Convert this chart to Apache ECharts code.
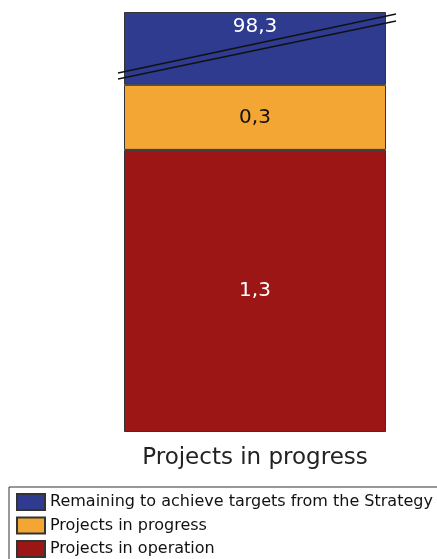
<!DOCTYPE html>
<html><head><meta charset="utf-8">
<script src="https://cdn.jsdelivr.net/npm/echarts@6/dist/echarts.min.js"></script>
<style>html,body{margin:0;padding:0;background:#fff;} #c{width:437px;height:559px;}</style>
</head><body><div id="c"></div>
<script>
// ---- data ----
const categories = ['Projects in progress'];
const seriesNames = ['Projects in operation', 'Projects in progress', 'Remaining to achieve targets from the Strategy'];
const operationValues = [1.3];
const progressValues = [0.3];
const remainingValues = [98.3];
const legendOrder = ['Remaining to achieve targets from the Strategy', 'Projects in progress', 'Projects in operation'];
const axisMin = 0;
const axisMax = 99.9;
const breakStart = 1.8;
const breakEnd = 99.7645;

// ---- style ----
const FONT = 'DejaVu Sans';
const colors = ['#9c1616', '#f3a634', '#2e3b8f'];
const labelColors = ['#ffffff', '#111111', '#ffffff'];
const grid = { left: 124, top: 12, width: 262, height: 420 };

const fmt = p => String(p.value).replace('.', ',');
const valueSets = [operationValues, progressValues, remainingValues];

const series = seriesNames.map((name, i) => ({
  name: name,
  type: 'bar',
  stack: 'total',
  barWidth: '100%',
  data: valueSets[i],
  itemStyle: { color: colors[i], borderColor: '#333333', borderWidth: 1 },
  label: {
    show: true,
    position: i === 2 ? 'insideTop' : 'inside',
    distance: 5,
    formatter: fmt,
    color: labelColors[i],
    fontFamily: FONT,
    fontSize: 20
  },
  emphasis: { disabled: true }
}));

const chart = echarts.init(document.getElementById('c'), null, { renderer: 'canvas' });
chart.setOption({
  animation: false,
  backgroundColor: '#ffffff',
  grid: { left: grid.left, top: grid.top, width: grid.width, height: grid.height, containLabel: false, outerBoundsMode: 'none' },
  xAxis: {
    type: 'category',
    data: categories,
    axisLine: { show: false },
    axisTick: { show: false },
    axisLabel: { fontFamily: FONT, fontSize: 23, color: '#222222', margin: 15 }
  },
  yAxis: {
    type: 'value',
    min: axisMin,
    max: axisMax,
    breaks: [{ start: breakStart, end: breakEnd, gap: 0 }],
    breakArea: { show: false },
    axisLine: { show: false },
    axisTick: { show: false },
    axisLabel: { show: false },
    splitLine: { show: false }
  },
  legend: {
    orient: 'vertical',
    left: 9,
    top: 487,
    height: 90,
    data: legendOrder,
    icon: 'rect',
    itemWidth: 28,
    itemHeight: 16,
    itemGap: 5.5,
    itemTextGap: 7,
    padding: [6, 12, 6, 7],
    borderColor: '#333333',
    borderWidth: 1,
    textStyle: { fontFamily: FONT, fontSize: 16, color: '#111111', lineHeight: 16 },
    selectedMode: false
  },
  graphic: [
    { type: 'line', z: 100, shape: { x1: grid.left - 6, y1: 73, x2: grid.left + grid.width + 10, y2: 14 }, style: { stroke: '#111111', lineWidth: 1.3 } },
    { type: 'line', z: 100, shape: { x1: grid.left - 6, y1: 79, x2: grid.left + grid.width + 10, y2: 21 }, style: { stroke: '#111111', lineWidth: 1.3 } }
  ],
  series: series
});
</script>
</body></html>
